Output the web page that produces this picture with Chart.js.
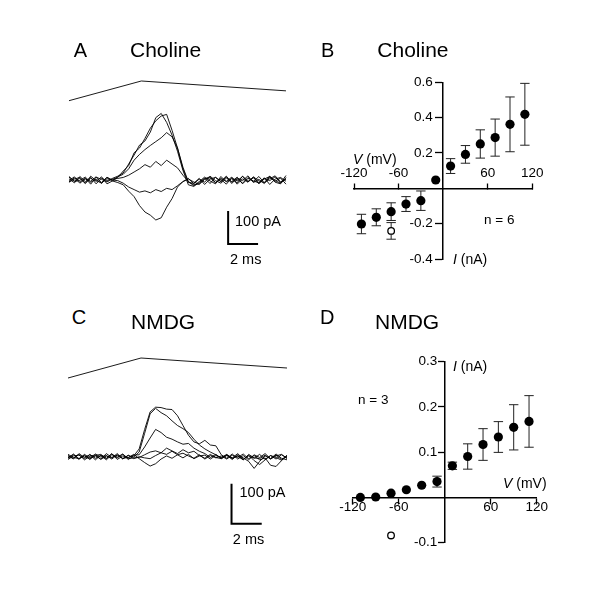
<!DOCTYPE html>
<html>
<head>
<meta charset="utf-8">
<script src="https://cdn.jsdelivr.net/npm/chart.js@4.4.1/dist/chart.umd.min.js"></script>
<style>
  body { margin: 0; background: #fff; }
  #page { position: relative; width: 600px; height: 590px; background: #fff;
          font-family: "Liberation Sans", Arial, sans-serif; color: #000; }
  canvas { position: absolute; }
  .t { position: absolute; white-space: nowrap; line-height: 1; }
</style>
</head>
<body>
<div id="page">
  <canvas id="chartA" width="240" height="210" style="left:60px;top:60px"></canvas>
  <canvas id="chartB" width="300" height="230" style="left:300px;top:60px"></canvas>
  <canvas id="chartC" width="240" height="220" style="left:60px;top:330px"></canvas>
  <canvas id="chartD" width="300" height="240" style="left:300px;top:330px"></canvas>

  <div class="t" style="left:73.8px;top:39.6px;font-size:20px">A</div>
  <div class="t" style="left:130px;top:38.7px;font-size:21px">Choline</div>
  <div class="t" style="left:321px;top:39.6px;font-size:20px">B</div>
  <div class="t" style="left:377.3px;top:38.7px;font-size:21px">Choline</div>
  <div class="t" style="left:71.7px;top:307.1px;font-size:20px">C</div>
  <div class="t" style="left:131px;top:311.2px;font-size:21px">NMDG</div>
  <div class="t" style="left:320px;top:307.1px;font-size:20px">D</div>
  <div class="t" style="left:375px;top:311.2px;font-size:21px">NMDG</div>

  <div class="t" style="left:235px;top:213.7px;font-size:14.5px">100 pA</div>
  <div class="t" style="left:230px;top:252.2px;font-size:14.5px">2 ms</div>
  <div class="t" style="left:239.5px;top:484.7px;font-size:14.5px">100 pA</div>
  <div class="t" style="left:232.8px;top:531.9px;font-size:14.5px">2 ms</div>

  <div class="t" style="left:353px;top:152.1px;font-size:14px"><i>V</i> (mV)</div>
  <div class="t" style="left:453px;top:252.4px;font-size:14px"><i>I</i> (nA)</div>
  <div class="t" style="left:484px;top:212.9px;font-size:13.5px">n = 6</div>
  <div class="t" style="left:503px;top:476.4px;font-size:14px"><i>V</i> (mV)</div>
  <div class="t" style="left:453px;top:359.1px;font-size:14px"><i>I</i> (nA)</div>
  <div class="t" style="left:358px;top:392.6px;font-size:13.5px">n = 3</div>
</div>

<script>
// sampling times of the current traces (ms)
const timeMs = [0,0.375,0.75,1.125,1.5,1.875,2.25,2.625,3,3.375,3.75,4.125,4.5,4.875,5.25,5.625,6,6.375,6.75,7.125,7.5,7.875,8.25,8.625,9,9.375,9.75,10.125,10.5,10.875,11.25,11.625,12,12.375,12.75,13.125,13.5,13.875,14.25,14.625,15];

// voltage command ramp drawn above the traces
const cmdT = [0, 5, 15];
const cmdMv = [-100, 40, -30];

// panel A, choline traces (pA)
const cholineTraces = [
  [4,-9,11,-5,8,-12,6,-3, 5,12,22,50,78,109,122,150,195,208,180,140,90,30,-15, -20,-8,6,-11,9,-4,12,-7,3,-10,8,-5,11,-9,4,13,-6,2],
  [-6,7,-10,3,-4,10,-8,9, -3,8,28,45,85,100,130,162,185,200,205,155,100,40,-5, -15,-12,4,10,-8,2,-13,7,-3,11,-6,9,-12,5,-2,10,-9,14],
  [9,-3,5,-11,12,-2,-9,4, 0,10,18,35,62,80,95,108,120,132,148,135,100,35,-8, -10,5,-14,3,8,-6,10,-11,6,-2,13,-8,2,-11,9,-4,6,-13],
  [-2,10,-7,6,-13,9,2,-6, 3,5,8,15,25,35,48,40,58,45,62,50,38,15,-5, -18,-5,9,-3,-12,11,-6,4,-9,12,-4,7,-10,3,11,-7,-12,8],
  [11,-5,-1,9,-7,3,-11,8, 0,-2,-10,-22,-30,-38,-34,-40,-30,-36,-26,-30,-18,-5,3, -6,-14,2,7,-9,5,-4,9,-13,4,-7,10,-3,-8,12,-2,-10,5],
  [-7,3,8,-10,5,-4,10,-12, -3,-8,-15,-35,-52,-80,-100,-110,-125,-118,-85,-58,-22,-5,5, -12,3,-7,12,-2,-10,6,-5,9,-12,5,-3,-9,7,-14,3,8,-4]
];

// panel C, NMDG traces (pA)
const nmdgTraces = [
  [3,-6,8,-2,5,-8,4,-5,7,-3,6,-7,2, 20,70,115,127,126,122,121,105,80,55,38,33,42,30,28,5, -4,7,-6,3,-8,5,-2,8,-5,4,-7,2],
  [-4,5,-7,6,-3,2,-6,8,-2,4,-5,3,-1, 12,60,110,124,113,105,92,80,72,62,45,30,20,12,5,-3, 6,-5,2,-8,4,-10,-20,-8,3,-6,5,-3],
  [6,-2,-5,4,-7,7,-1,3,-6,5,-4,-2,4, 5,25,48,70,62,50,45,38,32,34,22,14,8,-2,6,-5, 3,-7,5,-3,-12,-30,-12,2,-5,7,-4,-8],
  [-7,2,4,-5,6,-4,3,-8,5,-1,7,-5,-3, -2,5,12,15,10,22,15,8,18,10,14,3,-4,6,-3,2, -6,4,-2,7,-5,3,-8,-3,-22,-25,-10,4],
  [2,-4,6,-8,1,5,-7,2,-3,8,-6,4,-5, 0,-3,-5,3,10,6,14,5,9,2,-4,5,-6,3,-2,-5, 4,-3,8,-6,2,-4,6,-7,3,-2,-9,1],
  [-3,7,-5,2,-6,3,6,-4,8,-7,2,-3,6, -5,-15,-24,-18,-6,2,-4,5,-3,6,-5,2,4,-6,3,-2, 5,-4,2,-8,6,-3,-5,4,-6,2,6,-5]
];

// scale bars: 100 pA by 2 ms
const barA_T = [11, 11, 13];
const barA_pA = [-100, -200, -200];
const barC_T = [11.2, 11.2, 13.2];
const barC_pA = [-72, -172, -172];

// I-V data (mV, nA)
const ivV = [-110,-90,-70,-50,-30,-10,10,30,50,70,90,110];
const cholineI = [-0.202,-0.164,-0.132,-0.089,-0.070,0.047,0.126,0.192,0.251,0.287,0.362,0.419];
const cholineErr = [0.055,0.048,0.050,0.042,0.055,0,0.042,0.050,0.080,0.105,0.155,0.175];
const cholineOpenV = [-70];
const cholineOpenI = [-0.241];
const cholineOpenErr = [0.047];

const nmdgI = [0.000,0.001,0.0095,0.017,0.027,0.035,0.070,0.0905,0.117,0.1336,0.155,0.168];
const nmdgErr = [0,0,0,0,0,0.012,0.008,0.028,0.035,0.034,0.050,0.057];
const nmdgOpenV = [-70];
const nmdgOpenI = [-0.084];
const nmdgOpenErr = [0];

const FONT = "'Liberation Sans', Arial, sans-serif";

function pts(xs, ys) {
  return xs.map((x, i) => ({ x: x, y: ys[i] }));
}

function traceChart(id, traces, barT, barY, xr, yr, cr) {
  const datasets = traces.map(tr => ({
    data: pts(timeMs, tr),
    borderColor: '#000', borderWidth: 0.9, pointRadius: 0, tension: 0
  }));
  datasets.push({ data: pts(barT, barY), borderColor: '#000', borderWidth: 2,
                  pointRadius: 0, borderCapStyle: 'square' });
  datasets.push({ data: pts(cmdT, cmdMv), yAxisID: 'yCmd', borderColor: '#000',
                  borderWidth: 0.9, pointRadius: 0 });
  return new Chart(document.getElementById(id), {
    type: 'line',
    data: { datasets: datasets },
    options: {
      responsive: false, animation: false, events: [],
      layout: { padding: 0, autoPadding: false },
      plugins: { legend: { display: false }, tooltip: { enabled: false } },
      scales: {
        x: { type: 'linear', display: false, min: xr[0], max: xr[1] },
        y: { display: false, min: yr[0], max: yr[1] },
        yCmd: { display: false, min: cr[0], max: cr[1] }
      }
    }
  });
}

traceChart('chartA', cholineTraces, barA_T, barA_pA, [-0.622, 15.968], [-281.25, 375], [-1303, 189.2]);
traceChart('chartC', nmdgTraces, barC_T, barC_pA, [-0.548, 15.89], [-239.2, 324.9], [-1304, 236]);

// error bars drawn under the markers
const errorBars = {
  id: 'errorBars',
  beforeDatasetsDraw(chart) {
    const ctx = chart.ctx;
    const xs = chart.scales.x, ys = chart.scales.y;
    ctx.save();
    ctx.strokeStyle = '#222';
    ctx.lineWidth = 1;
    chart.data.datasets.forEach(ds => {
      if (!ds.errors) return;
      ds.data.forEach((p, i) => {
        const e = ds.errors[i];
        if (!e) return;
        const px = xs.getPixelForValue(p.x);
        const top = ys.getPixelForValue(p.y + e);
        const bot = ys.getPixelForValue(p.y - e);
        ctx.beginPath();
        ctx.moveTo(px, top); ctx.lineTo(px, bot);
        ctx.moveTo(px - 4.7, top); ctx.lineTo(px + 4.7, top);
        ctx.moveTo(px - 4.7, bot); ctx.lineTo(px + 4.7, bot);
        ctx.stroke();
      });
    });
    ctx.restore();
  }
};

function dropZero(axis) {
  axis.ticks = axis.ticks.filter(t => Math.abs(t.value) > 1e-9);
}

// y labels sit right-aligned on a centred axis, so trailing spaces keep them clear of it
function ivChart(id, filledI, filledErr, openV, openI, openErr, yMin, yMax, yStep, pad, xTick, xPad, yTick, yGap) {
  return new Chart(document.getElementById(id), {
    type: 'scatter',
    data: {
      datasets: [
        { data: pts(ivV, filledI), errors: filledErr, pointRadius: 4.6,
          pointBackgroundColor: '#000', pointBorderColor: '#000', pointBorderWidth: 0 },
        { data: pts(openV, openI), errors: openErr, pointRadius: 3.3,
          pointBackgroundColor: '#fff', pointBorderColor: '#000', pointBorderWidth: 1.3 }
      ]
    },
    options: {
      responsive: false, animation: false, events: [],
      layout: { padding: pad, autoPadding: false },
      plugins: { legend: { display: false }, tooltip: { enabled: false } },
      scales: {
        x: {
          type: 'linear', min: -120, max: 120, position: { y: 0 },
          afterBuildTicks: dropZero,
          ticks: { stepSize: 60, color: '#000', padding: xPad, maxRotation: 0, autoSkip: false,
                   font: { family: FONT, size: 13.5, lineHeight: 1 } },
          grid: { drawOnChartArea: false, drawTicks: true, tickLength: xTick, tickWidth: 1.3, tickColor: '#000' },
          border: { display: true, color: '#000', width: 1.5 }
        },
        y: {
          type: 'linear', min: yMin, max: yMax, position: { x: 0 },
          afterBuildTicks: dropZero,
          ticks: { stepSize: yStep, color: '#000', autoSkip: false,
                   callback: v => v.toFixed(1) + yGap,
                   font: { family: FONT, size: 13.5, lineHeight: 1 } },
          grid: { drawOnChartArea: false, drawTicks: true, tickLength: yTick, tickWidth: 1.3, tickColor: '#000' },
          border: { display: true, color: '#000', width: 1.5 }
        }
      }
    },
    plugins: [errorBars]
  });
}

ivChart('chartB', cholineI, cholineErr, cholineOpenV, cholineOpenI, cholineOpenErr,
        -0.4, 0.6, 0.2, { left: 54, right: 67.7, top: 22.3, bottom: 31 }, -6, -15.75, 7, '\u2002 ');
ivChart('chartD', nmdgI, nmdgErr, nmdgOpenV, nmdgOpenI, nmdgOpenErr,
        -0.1, 0.3, 0.1, { left: 52.7, right: 63.3, top: 31.7, bottom: 27.3 }, 6, -3, 6, '  ');
</script>
</body>
</html>
